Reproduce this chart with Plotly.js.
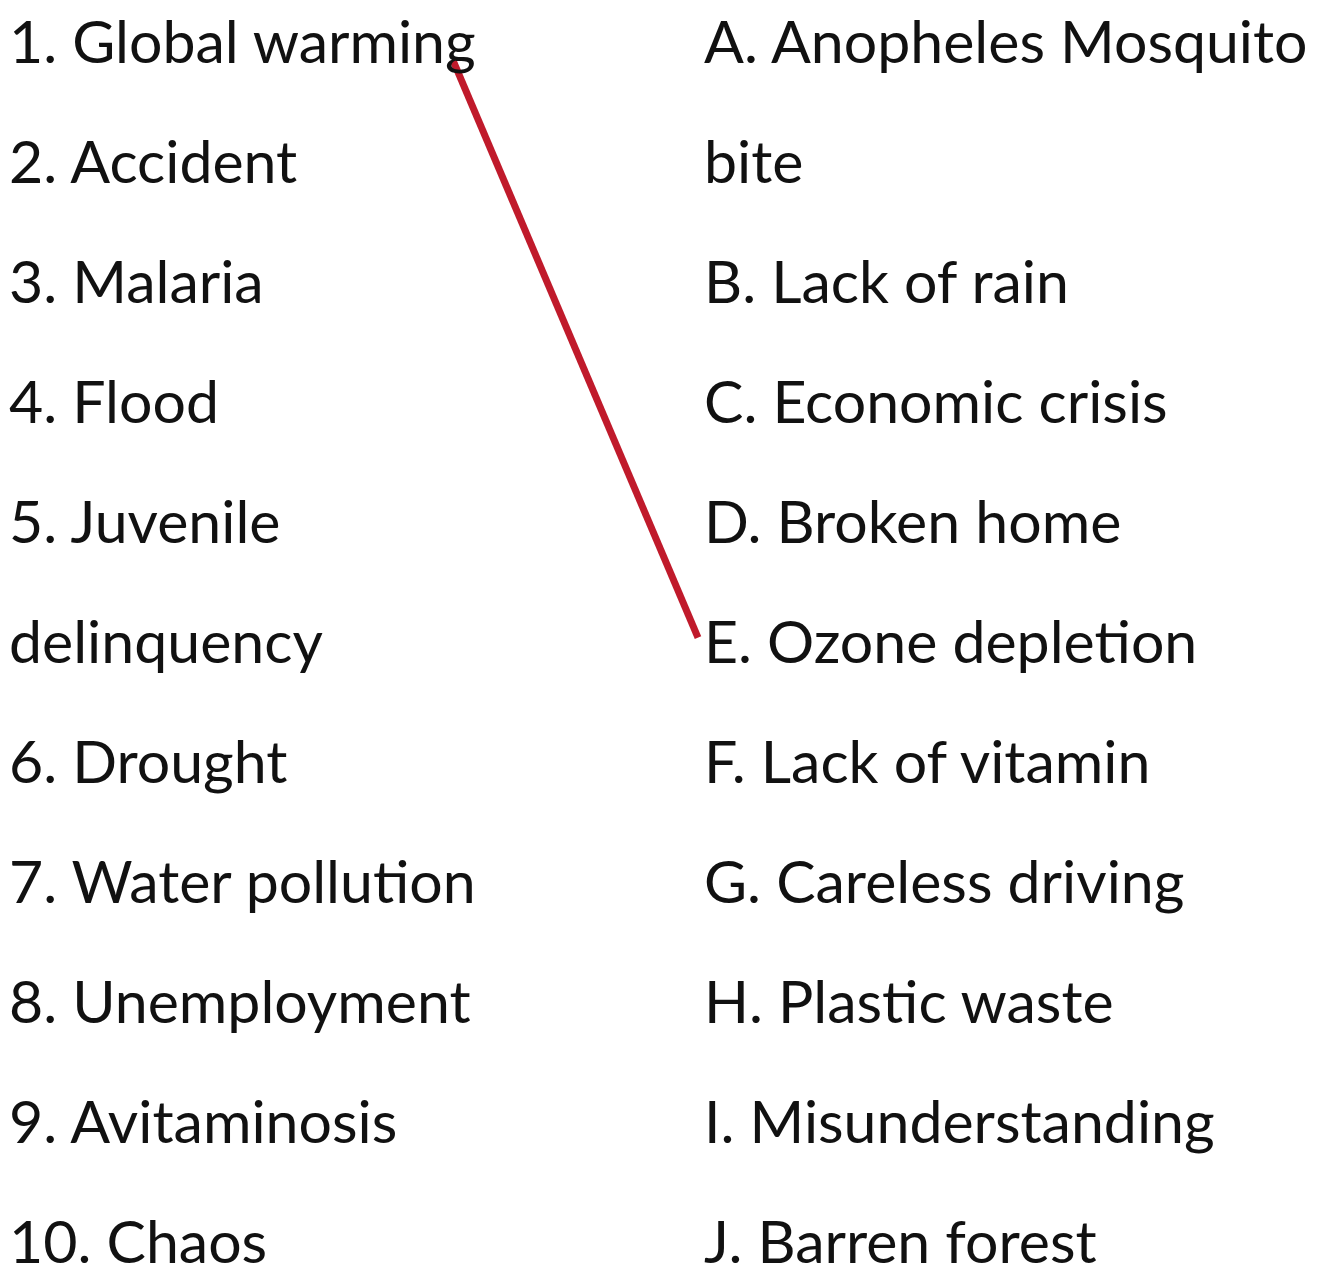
<!DOCTYPE html>
<html>
<head>
<meta charset="utf-8">
<script src="https://cdn.plot.ly/plotly-3.0.1.min.js"></script>
<style>html,body{margin:0;padding:0;background:#fff;}#chart{width:1325px;height:1266px;}</style>
</head>
<body>
<div id="chart"></div>
<script>
// Text rows of each column (a long item wraps onto the next row)
const leftRows = ["1. Global warming", "2. Accident", "3. Malaria", "4. Flood", "5. Juvenile", "delinquency", "6. Drought", "7. Water pollution", "8. Unemployment", "9. Avitaminosis", "10. Chaos"];
const rightRows = ["A. Anopheles Mosquito", "bite", "B. Lack of rain", "C. Economic crisis", "D. Broken home", "E. Ozone depletion", "F. Lack of vitamin", "G. Careless driving", "H. Plastic waste", "I. Misunderstanding", "J. Barren forest"];
// Drawn matches: [left row index, right row index]
const matches = [[0, 5]];

const W = 1325, H = 1266;
const rowTop = 40, rowStep = 120;
const leftX = 7, rightX = 702;
const FONT = {family: "Lato, 'Open Sans', sans-serif", size: 59, color: "#111111"};

const annotations = [];
leftRows.forEach((t, i) => annotations.push({x: leftX, y: i, xref: 'x', yref: 'y', text: t, showarrow: false, xanchor: 'left', yanchor: 'middle', font: FONT}));
rightRows.forEach((t, i) => annotations.push({x: rightX, y: i, xref: 'x', yref: 'y', text: t, showarrow: false, xanchor: 'left', yanchor: 'middle', font: FONT}));

const traces = matches.map(([l, r]) => ({
  type: 'scatter', mode: 'lines',
  x: [453, 698], y: [l + 0.17, r - 0.02],
  line: {color: '#c01a2b', width: 7},
  hoverinfo: 'skip', showlegend: false
}));

const yMin = (0 - rowTop) / rowStep, yMax = (H - rowTop) / rowStep;
const layout = {
  width: W, height: H,
  margin: {l: 0, r: 0, t: 0, b: 0},
  paper_bgcolor: '#ffffff', plot_bgcolor: '#ffffff',
  xaxis: {range: [0, W], visible: false, fixedrange: true},
  yaxis: {range: [yMax, yMin], visible: false, fixedrange: true},
  annotations: annotations,
  showlegend: false
};
Plotly.newPlot('chart', traces, layout, {displayModeBar: false, staticPlot: true});
</script>
</body>
</html>
